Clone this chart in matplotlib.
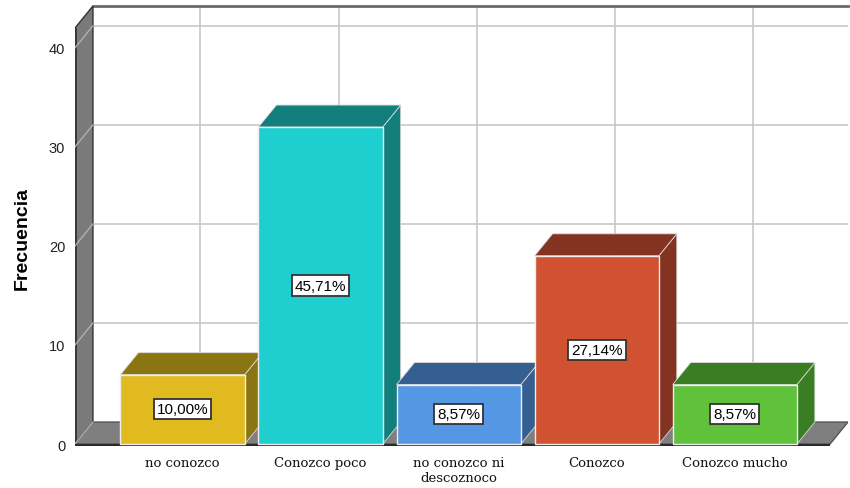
import matplotlib
matplotlib.use('Agg')
import matplotlib.pyplot as plt
from matplotlib.patches import Polygon, Rectangle

plt.rcParams['font.family'] = ['Liberation Sans', 'DejaVu Sans']

categorias = ['no conozco', 'Conozco poco', 'no conozco ni\ndescoznoco', 'Conozco', 'Conozco mucho']
frecuencias = [7, 32, 6, 19, 6]
porcentajes = ['10,00%', '45,71%', '8,57%', '27,14%', '8,57%']
colores = ['#e1ba1f', '#1fcece', '#5597e3', '#d05230', '#5fc23a']
colores_osc = ['#8b7513', '#137f7c', '#355e91', '#843221', '#3a7d23']
y_ticks = [0, 10, 20, 30, 40]

dx, dy = 0.13, 2.22      # profundidad del efecto 3D
x0, x1 = -0.779, 4.69    # extremos del suelo (frente)
techo = 42.0
ancho = 0.9

fig = plt.figure(figsize=(8.5, 4.89), dpi=100)
ax = fig.add_axes([75 / 850, 42 / 489, 773 / 850, 440 / 489])
ax.set_xlim(x0, x1 + dx)
ax.set_ylim(-0.2, techo + dy)

# pared del fondo
ax.add_patch(Polygon([(x0 + dx, dy), (x1 + dx, dy), (x1 + dx, techo + dy), (x0 + dx, techo + dy)],
                     closed=True, fc='white', ec='none', zorder=1))
for t in y_ticks[1:]:
    ax.plot([x0 + dx, x1 + dx], [t + dy, t + dy], color='#c8c8c8', lw=1.2, zorder=2)
for i in range(len(categorias)):
    ax.plot([i + dx, i + dx], [dy, techo + dy], color='#c8c8c8', lw=1.2, zorder=2)
ax.plot([x0 + dx, x1 + dx], [techo + dy, techo + dy], color='#6a6a6a', lw=2, zorder=2, clip_on=False)

# pared izquierda
ax.add_patch(Polygon([(x0, 0), (x0 + dx, dy), (x0 + dx, techo + dy), (x0, techo)],
                     closed=True, fc='#7a7a7a', ec='#333333', lw=1, zorder=3))
ax.add_patch(Rectangle((x0, 0), 0.018, techo, fc='#3a3a3a', ec='none', zorder=3))
for t in y_ticks[1:]:
    ax.plot([x0, x0 + dx], [t, t + dy], color='#b0b0b0', lw=1, zorder=4)

# suelo
ax.add_patch(Polygon([(x0, 0), (x1, 0), (x1 + dx, dy), (x0 + dx, dy)],
                     closed=True, fc='#7f7f7f', ec='#555555', lw=1, zorder=3))
ax.plot([x0, x0 + dx], [0, dy], color='#b0b0b0', lw=1, zorder=4)
ax.add_patch(Rectangle((x0, -0.2), x1 - x0, 0.2, fc='#2a2a2a', ec='none', zorder=4, clip_on=False))

# barras
for i, h in enumerate(frecuencias):
    izq = i - ancho / 2
    der = i + ancho / 2
    ax.add_patch(Polygon([(der, 0), (der + dx, dy), (der + dx, h + dy), (der, h)],
                         closed=True, fc=colores_osc[i], ec='#d8d8d8', lw=0.6, zorder=5))
    ax.add_patch(Polygon([(izq, h), (der, h), (der + dx, h + dy), (izq + dx, h + dy)],
                         closed=True, fc=colores_osc[i], ec='#d8d8d8', lw=0.6, zorder=5))
    ax.add_patch(Rectangle((izq, 0), ancho, h, fc=colores[i], ec='#eeeeee', lw=1, zorder=6))
    ax.text(i, h / 2, porcentajes[i], ha='center', va='center', fontsize=11, zorder=7,
            bbox=dict(boxstyle='square,pad=0.2', fc='white', ec='#333333', lw=1.3))

ax.set_xticks(range(len(categorias)))
ax.set_xticklabels(categorias, fontfamily='DejaVu Serif', fontsize=9.5, color='#111111')
ax.set_yticks(y_ticks)
ax.set_yticklabels([str(t) for t in y_ticks], fontsize=10.5, color='#222222')
ax.tick_params(axis='both', length=0)
ax.tick_params(axis='x', pad=7)
ax.tick_params(axis='y', pad=7)
ax.set_ylabel('Frecuencia', fontsize=14, fontweight='bold')
ax.yaxis.set_label_coords(-0.057, 0.475)
ax.set_frame_on(False)

fig.savefig('out.png', dpi=100)
